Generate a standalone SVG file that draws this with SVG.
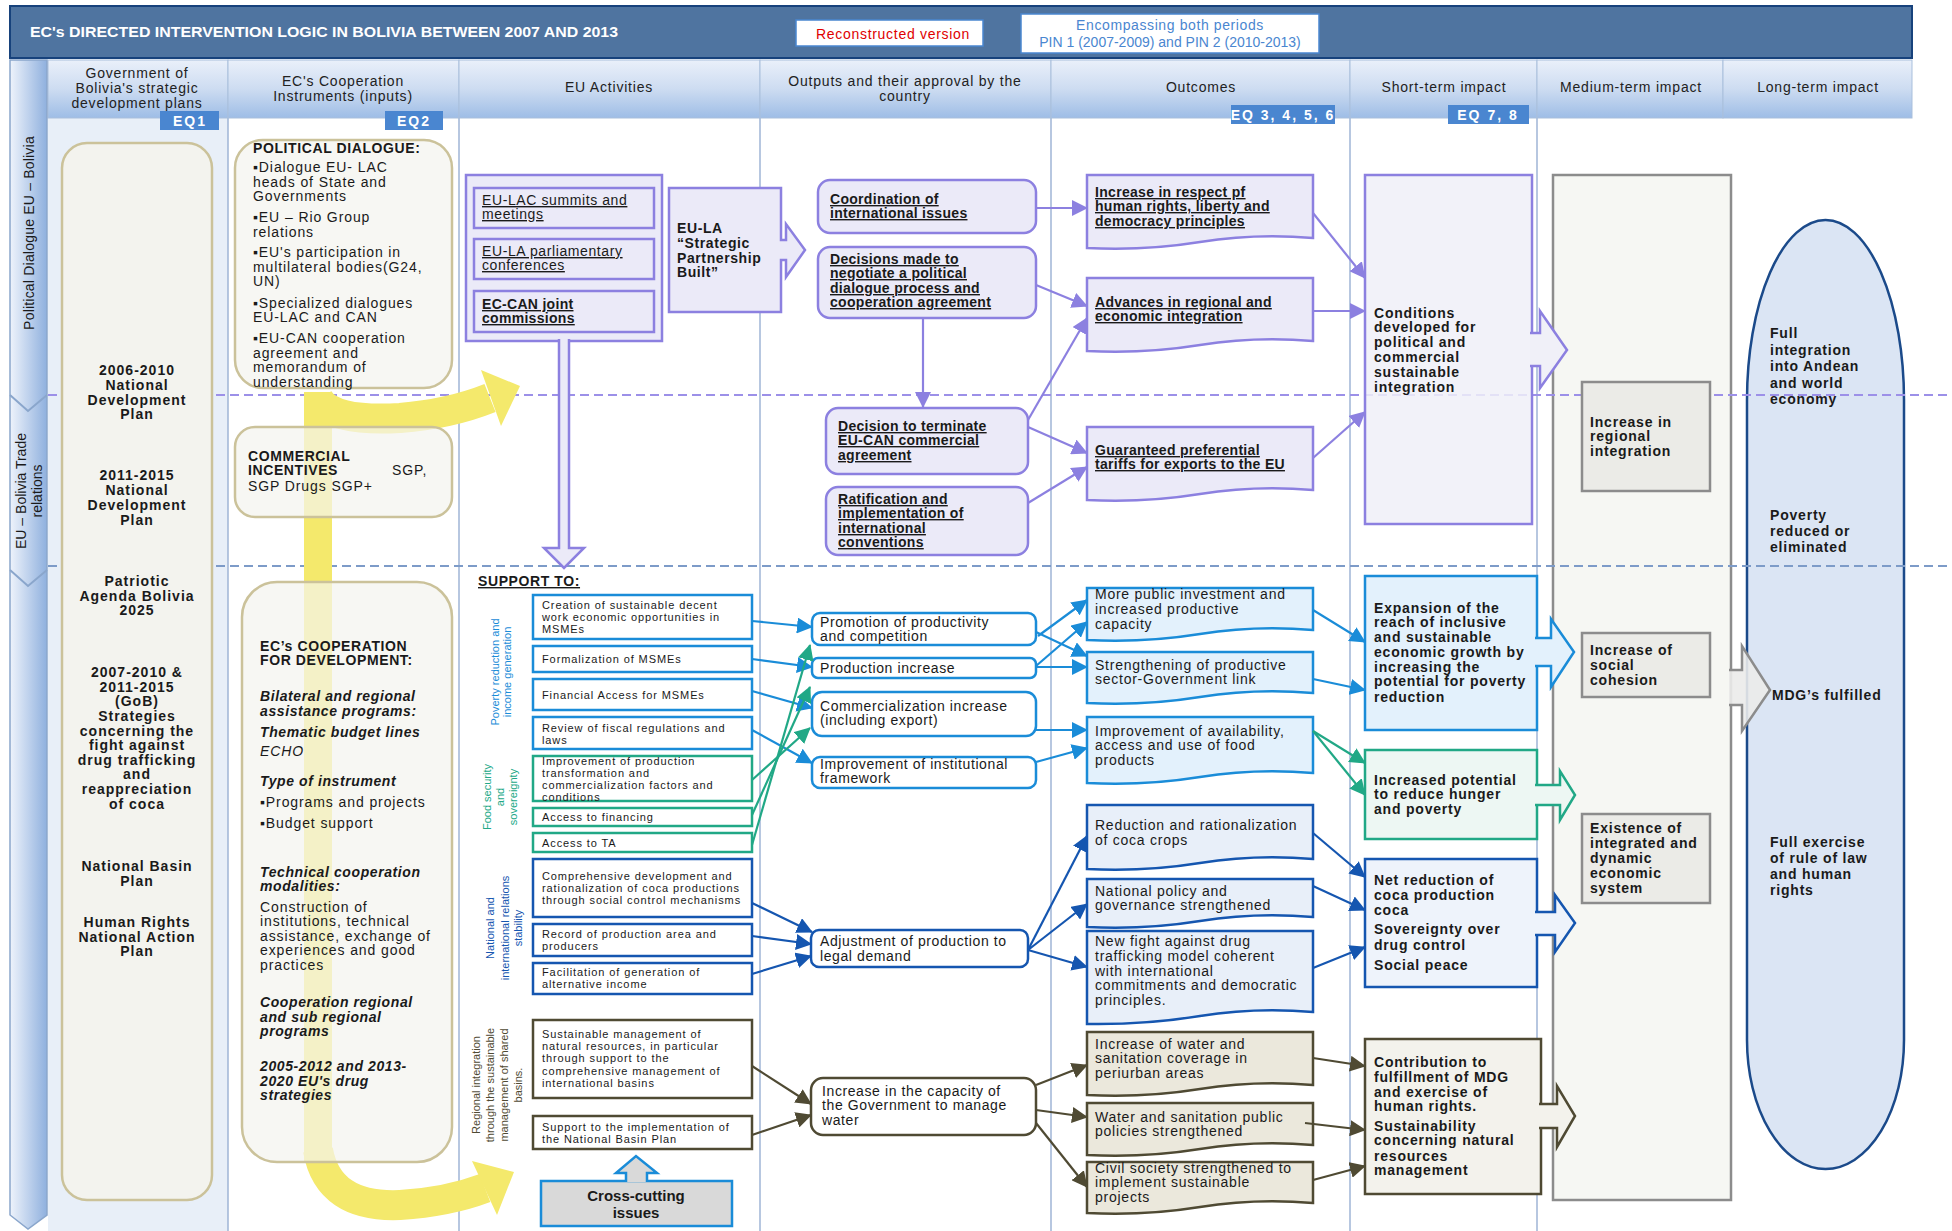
<svg xmlns="http://www.w3.org/2000/svg" width="1952" height="1231" viewBox="0 0 1952 1231">
<defs>
<linearGradient id="gHdr" x1="0" y1="0" x2="0" y2="1"><stop offset="0" stop-color="#eaf0fa"/><stop offset="0.5" stop-color="#cddcf1"/><stop offset="1" stop-color="#9ebde6"/></linearGradient>
<linearGradient id="gStrip" x1="0" y1="0" x2="1" y2="0"><stop offset="0" stop-color="#eef3fb"/><stop offset="1" stop-color="#8fb0de"/></linearGradient>
<marker id="mP" markerUnits="userSpaceOnUse" markerWidth="16" markerHeight="16" refX="15" refY="8" orient="auto"><path d="M0,0 L16,8 L0,16 z" fill="#8c80e0"/></marker>
<marker id="mB" markerUnits="userSpaceOnUse" markerWidth="16" markerHeight="16" refX="15" refY="8" orient="auto"><path d="M0,0 L16,8 L0,16 z" fill="#1a8cd8"/></marker>
<marker id="mG" markerUnits="userSpaceOnUse" markerWidth="16" markerHeight="16" refX="15" refY="8" orient="auto"><path d="M0,0 L16,8 L0,16 z" fill="#21a886"/></marker>
<marker id="mD" markerUnits="userSpaceOnUse" markerWidth="16" markerHeight="16" refX="15" refY="8" orient="auto"><path d="M0,0 L16,8 L0,16 z" fill="#1556b0"/></marker>
<marker id="mO" markerUnits="userSpaceOnUse" markerWidth="16" markerHeight="16" refX="15" refY="8" orient="auto"><path d="M0,0 L16,8 L0,16 z" fill="#4f4a33"/></marker>
<style>
text{font-family:"Liberation Sans",Arial,Helvetica,sans-serif;fill:#1a1a1a}
.hd{font-size:14px;letter-spacing:0.8px;text-anchor:middle;fill:#222}
.eq{font-size:14px;font-weight:bold;fill:#fff;letter-spacing:2px;text-anchor:middle}
.c1{font-size:14px;font-weight:bold;text-anchor:middle;letter-spacing:1px}
.r14{font-size:14px;letter-spacing:0.9px}
.b14{font-size:14px;font-weight:bold;letter-spacing:0.6px}
.bi{font-size:14px;font-weight:bold;font-style:italic;letter-spacing:0.6px}
.bu{font-size:14px;font-weight:bold;text-decoration:underline;letter-spacing:0.3px}
.ru{font-size:14px;text-decoration:underline;letter-spacing:0.6px}
.out{font-size:14px;letter-spacing:0.6px}
.oc{font-size:14px;letter-spacing:0.75px}
.st{font-size:14px;font-weight:bold;letter-spacing:0.8px}
.s11{font-size:11px;letter-spacing:0.9px}
.rot{font-size:11px;text-anchor:middle}
.pur{fill:#ebeaf8;stroke:#8c80e0;stroke-width:2.5}
.blu{fill:#e3f1fc;stroke:#1a8cd8;stroke-width:2.5}
.dbl{fill:#e8eff9;stroke:#1556b0;stroke-width:2.5}
.olv{fill:#ebe8dc;stroke:#4f4a33;stroke-width:2.5}
.wb{fill:#fff;stroke:#1a8cd8;stroke-width:2.5}
.wg{fill:#fff;stroke:#21a886;stroke-width:2.5}
.wd{fill:#fff;stroke:#1556b0;stroke-width:2.5}
.wo{fill:#fff;stroke:#4f4a33;stroke-width:2.5}
.tan{fill:#f3f3ee;stroke:#cbc29a;stroke-width:2.5}
.gry{fill:#ebebe7;stroke:#8c8c8c;stroke-width:2.5}
.hc{fill:url(#gHdr);stroke:#a9bfdc;stroke-width:1}
.vl{stroke:#9fb4d6;stroke-width:1.5}
.cp{stroke:#8c80e0;marker-end:url(#mP)}
.cb{stroke:#1a8cd8;marker-end:url(#mB)}
.cg{stroke:#21a886;marker-end:url(#mG)}
.cd{stroke:#1556b0;marker-end:url(#mD)}
.co{stroke:#4f4a33;marker-end:url(#mO)}
</style>
</defs>

<rect width="1952" height="1231" fill="#fff"/>

<!-- backgrounds -->
<g id="background">
<rect x="48" y="118" width="180" height="1113" fill="#e8eff8"/>
<line class="vl" x1="228" y1="118" x2="228" y2="1231"/>
<line class="vl" x1="459" y1="118" x2="459" y2="1231"/>
<line class="vl" x1="760" y1="118" x2="760" y2="1231"/>
<line class="vl" x1="1051" y1="118" x2="1051" y2="1231"/>
<line class="vl" x1="1350" y1="118" x2="1350" y2="1231"/>
<line class="vl" x1="1537" y1="118" x2="1537" y2="1231"/>
</g>

<!-- title -->
<g id="title">
<rect x="10" y="6" width="1902" height="52" fill="#4f74a0" stroke="#17427c" stroke-width="2"/>
<text x="30" y="37" font-size="15" font-weight="bold" fill="#fff" style="fill:#fff" textLength="588" lengthAdjust="spacingAndGlyphs">EC's DIRECTED INTERVENTION LOGIC IN BOLIVIA BETWEEN 2007 AND 2013</text>
<rect x="796" y="20" width="187" height="26" fill="#fff" stroke="#4a86d0" stroke-width="1.5"/>
<text x="816" y="39" font-size="14" style="fill:#e00000" letter-spacing="0.7">Reconstructed version</text>
<rect x="1021" y="14" width="298" height="39" fill="#fff" stroke="#4a86d0" stroke-width="1.5"/>
<text x="1170" y="30" font-size="14" text-anchor="middle" style="fill:#4a86d0" letter-spacing="0.6">Encompassing both periods</text>
<text x="1170" y="47" font-size="14" text-anchor="middle" style="fill:#4a86d0">PIN 1 (2007-2009) and PIN 2 (2010-2013)</text>
</g>

<!-- header -->
<g id="header">
<rect class="hc" x="48" y="60" width="180" height="58"/>
<rect class="hc" x="228" y="60" width="231" height="58"/>
<rect class="hc" x="459" y="60" width="301" height="58"/>
<rect class="hc" x="760" y="60" width="291" height="58"/>
<rect class="hc" x="1051" y="60" width="299" height="58"/>
<rect class="hc" x="1350" y="60" width="187" height="58"/>
<rect class="hc" x="1537" y="60" width="186" height="58"/>
<rect class="hc" x="1723" y="60" width="189" height="58"/>
<text class="hd"><tspan x="137" y="78">Government of</tspan><tspan x="137" y="93">Bolivia's strategic</tspan><tspan x="137" y="108">development plans</tspan></text>
<text class="hd"><tspan x="343" y="86">EC's Cooperation</tspan><tspan x="343" y="101">Instruments (inputs)</tspan></text>
<text class="hd" x="609" y="92">EU Activities</text>
<text class="hd"><tspan x="905" y="86">Outputs and their approval by the</tspan><tspan x="905" y="101">country</tspan></text>
<text class="hd" x="1201" y="92">Outcomes</text>
<text class="hd" x="1444" y="92">Short-term impact</text>
<text class="hd" x="1631" y="92">Medium-term impact</text>
<text class="hd" x="1818" y="92">Long-term impact</text>
<rect x="160" y="111" width="59" height="19" fill="#4a86d0"/><text class="eq" x="190" y="126">EQ1</text>
<rect x="385" y="111" width="58" height="19" fill="#4a86d0"/><text class="eq" x="414" y="126">EQ2</text>
<rect x="1231" y="105" width="104" height="19" fill="#4a86d0"/><text class="eq" x="1283" y="120">EQ 3, 4, 5, 6</text>
<rect x="1448" y="105" width="81" height="19" fill="#4a86d0"/><text class="eq" x="1488" y="120">EQ 7, 8</text>
</g>

<!-- left strip -->
<g id="strip">
<path d="M10 60 H47 V1215 L28 1229 L10 1215 Z" fill="url(#gStrip)" stroke="#8aa6cc" stroke-width="1.5"/>
<polyline points="10,395 28,411 47,395" fill="none" stroke="#8aa6cc" stroke-width="2"/>
<polyline points="10,570 28,586 47,570" fill="none" stroke="#8aa6cc" stroke-width="2"/>
<text font-size="14" text-anchor="middle" transform="translate(34,233) rotate(-90)" letter-spacing="0.2">Political Dialogue EU – Bolivia</text>
<text font-size="14" text-anchor="middle" transform="translate(26,491) rotate(-90)">EU – Bolivia Trade</text>
<text font-size="14" text-anchor="middle" transform="translate(42,491) rotate(-90)">relations</text>
</g>

<!-- medium and long term containers -->
<g id="medium-term">
<rect x="1553" y="175" width="178" height="1025" fill="#f6f7f3" stroke="#8c8c8c" stroke-width="2.5"/>
</g>
<g id="long-term">
<path d="M1747 400 A78.5 180 0 0 1 1904 400 V1040 A78.5 129 0 0 1 1747 1040 Z" fill="#dbe5f4" stroke="#1b4a8a" stroke-width="2.5"/>
<text class="st"><tspan x="1770" y="338">Full</tspan><tspan x="1770" y="355">integration</tspan><tspan x="1770" y="371">into Andean</tspan><tspan x="1770" y="388">and world</tspan><tspan x="1770" y="404">economy</tspan></text>
<text class="st"><tspan x="1770" y="520">Poverty</tspan><tspan x="1770" y="536">reduced or</tspan><tspan x="1770" y="552">eliminated</tspan></text>
<text class="st" x="1772" y="700">MDG’s fulfilled</text>
<text class="st"><tspan x="1770" y="847">Full exercise</tspan><tspan x="1770" y="863">of rule of law</tspan><tspan x="1770" y="879">and human</tspan><tspan x="1770" y="895">rights</tspan></text>
</g>

<!-- dashed separators -->
<g id="separators" fill="none" stroke-width="2" stroke-dasharray="9 5">
<line x1="48" y1="395" x2="1952" y2="395" stroke="#9c90e8"/>
<line x1="48" y1="566" x2="1952" y2="566" stroke="#7d9bc8"/>
</g>

<!-- yellow arrows -->
<g id="yellow-arrows" fill="#f4e96c">
<rect x="304" y="392" width="28" height="770"/>
<path d="M318 398 Q330 422 400 418 Q450 414 490 398" fill="none" stroke="#f4e96c" stroke-width="30"/>
<polygon points="481,370 520,386 501,426"/>
<path d="M318 1150 Q328 1208 400 1205 Q448 1202 485 1188" fill="none" stroke="#f4e96c" stroke-width="30"/>
<polygon points="472,1161 514,1172 497,1215"/>
</g>

<!-- column 1 -->
<g id="gob-plans">
<rect class="tan" x="62" y="143" width="150" height="1057" rx="25"/>
<text class="c1"><tspan x="137" y="375">2006-2010</tspan><tspan x="137" y="390">National</tspan><tspan x="137" y="405">Development</tspan><tspan x="137" y="419">Plan</tspan></text>
<text class="c1"><tspan x="137" y="480">2011-2015</tspan><tspan x="137" y="495">National</tspan><tspan x="137" y="510">Development</tspan><tspan x="137" y="525">Plan</tspan></text>
<text class="c1"><tspan x="137" y="586">Patriotic</tspan><tspan x="137" y="601">Agenda Bolivia</tspan><tspan x="137" y="615">2025</tspan></text>
<text class="c1"><tspan x="137" y="677">2007-2010 &amp;</tspan><tspan x="137" y="692">2011-2015</tspan><tspan x="137" y="706">(GoB)</tspan><tspan x="137" y="721">Strategies</tspan><tspan x="137" y="736">concerning the</tspan><tspan x="137" y="750">fight against</tspan><tspan x="137" y="765">drug trafficking</tspan><tspan x="137" y="779">and</tspan><tspan x="137" y="794">reappreciation</tspan><tspan x="137" y="809">of coca</tspan></text>
<text class="c1"><tspan x="137" y="871">National Basin</tspan><tspan x="137" y="886">Plan</tspan></text>
<text class="c1"><tspan x="137" y="927">Human Rights</tspan><tspan x="137" y="942">National Action</tspan><tspan x="137" y="956">Plan</tspan></text>
</g>

<!-- column 2 -->
<g id="political-dialogue">
<rect class="tan" x="235" y="140" width="217" height="248" rx="28" fill-opacity="0.7"/>
<text class="b14" x="253" y="153">POLITICAL DIALOGUE:</text>
<text class="r14"><tspan x="253" y="172">▪Dialogue EU- LAC</tspan><tspan x="253" y="187">heads of State and</tspan><tspan x="253" y="201">Governments</tspan><tspan x="253" y="222">▪EU – Rio Group</tspan><tspan x="253" y="237">relations</tspan><tspan x="253" y="257">▪EU's participation in</tspan><tspan x="253" y="272">multilateral bodies(G24,</tspan><tspan x="253" y="286">UN)</tspan><tspan x="253" y="308">▪Specialized dialogues</tspan><tspan x="253" y="322">EU-LAC and CAN</tspan><tspan x="253" y="343">▪EU-CAN cooperation</tspan><tspan x="253" y="358">agreement and</tspan><tspan x="253" y="372">memorandum of</tspan><tspan x="253" y="387">understanding</tspan></text>
</g>
<g id="commercial-incentives">
<rect class="tan" x="235" y="427" width="217" height="90" rx="20" fill-opacity="0.7"/>
<text class="b14"><tspan x="248" y="461">COMMERCIAL</tspan><tspan x="248" y="475">INCENTIVES</tspan></text>
<text class="r14" x="392" y="475">SGP,</text>
<text class="r14" x="248" y="491">SGP Drugs SGP+</text>
</g>
<g id="cooperation-development">
<rect class="tan" x="242" y="582" width="210" height="580" rx="35" fill-opacity="0.7"/>
<text class="b14"><tspan x="260" y="651">EC’s COOPERATION</tspan><tspan x="260" y="665">FOR DEVELOPMENT:</tspan></text>
<text class="bi"><tspan x="260" y="701">Bilateral and regional</tspan><tspan x="260" y="716">assistance programs:</tspan><tspan x="260" y="737">Thematic budget lines</tspan></text>
<text class="r14" font-style="italic" x="260" y="756">ECHO</text>
<text class="bi" x="260" y="786">Type of instrument</text>
<text class="r14"><tspan x="260" y="807">▪Programs and projects</tspan><tspan x="260" y="828">▪Budget support</tspan></text>
<text class="bi"><tspan x="260" y="877">Technical cooperation</tspan><tspan x="260" y="891">modalities:</tspan></text>
<text class="r14"><tspan x="260" y="912">Construction of</tspan><tspan x="260" y="926">institutions, technical</tspan><tspan x="260" y="941">assistance, exchange of</tspan><tspan x="260" y="955">experiences and good</tspan><tspan x="260" y="970">practices</tspan></text>
<text class="bi"><tspan x="260" y="1007">Cooperation regional</tspan><tspan x="260" y="1022">and sub regional</tspan><tspan x="260" y="1036">programs</tspan></text>
<text class="bi"><tspan x="260" y="1071">2005-2012 and 2013-</tspan><tspan x="260" y="1086">2020 EU's drug</tspan><tspan x="260" y="1100">strategies</tspan></text>
</g>

<!-- column 3: EU activities -->
<g id="eu-lac-activities">
<rect class="pur" x="466" y="175" width="196" height="166"/>
<rect class="pur" x="474" y="188" width="180" height="40"/>
<text class="ru"><tspan x="482" y="205">EU-LAC summits and</tspan><tspan x="482" y="219">meetings</tspan></text>
<rect class="pur" x="474" y="239" width="180" height="40"/>
<text class="ru"><tspan x="482" y="256">EU-LA parliamentary</tspan><tspan x="482" y="270">conferences</tspan></text>
<rect class="pur" x="474" y="291" width="180" height="41"/>
<text class="bu"><tspan x="482" y="309">EC-CAN joint</tspan><tspan x="482" y="323">commissions</tspan></text>
<path class="pur" d="M559 339 V548 H544 L564 568 L584 548 H569 V339"/>
</g>
<g id="eu-la-partnership">
<path class="pur" d="M781 240 V188 H669 V312 H781 V260 H786 V277 L805 250 L786 224 V240 Z"/>
<text class="b14"><tspan x="677" y="233">EU-LA</tspan><tspan x="677" y="248">“Strategic</tspan><tspan x="677" y="263">Partnership</tspan><tspan x="677" y="277">Built”</tspan></text>
</g>
<g id="support-to">
<text class="b14" x="478" y="586" text-decoration="underline">SUPPORT TO:</text>
<text class="rot" style="fill:#1a8cd8" transform="translate(499,672) rotate(-90)">Poverty reduction and</text>
<text class="rot" style="fill:#1a8cd8" transform="translate(511,672) rotate(-90)">income generation</text>
<text class="rot" style="fill:#21a886" transform="translate(491,797) rotate(-90)">Food security</text>
<text class="rot" style="fill:#21a886" transform="translate(504,797) rotate(-90)">and</text>
<text class="rot" style="fill:#21a886" transform="translate(517,797) rotate(-90)">sovereignty</text>
<text class="rot" style="fill:#1556b0" transform="translate(494,928) rotate(-90)">National and</text>
<text class="rot" style="fill:#1556b0" transform="translate(509,928) rotate(-90)">international relations</text>
<text class="rot" style="fill:#1556b0" transform="translate(522,928) rotate(-90)">stability</text>
<text class="rot" style="fill:#4f4a33" transform="translate(480,1085) rotate(-90)">Regional integration</text>
<text class="rot" style="fill:#4f4a33" transform="translate(494,1085) rotate(-90)">through the sustainable</text>
<text class="rot" style="fill:#4f4a33" transform="translate(508,1085) rotate(-90)">management of shared</text>
<text class="rot" style="fill:#4f4a33" transform="translate(522,1085) rotate(-90)">basins.</text>
</g>
<g id="act-creation"><rect class="wb" x="533" y="595" width="219" height="44"/><text class="s11"><tspan x="542" y="609">Creation of sustainable decent</tspan><tspan x="542" y="621">work economic opportunities in</tspan><tspan x="542" y="633">MSMEs</tspan></text></g>
<g id="act-formalization"><rect class="wb" x="533" y="646" width="219" height="26"/><text class="s11" x="542" y="663">Formalization of MSMEs</text></g>
<g id="act-financial"><rect class="wb" x="533" y="679" width="219" height="31"/><text class="s11" x="542" y="699">Financial Access for MSMEs</text></g>
<g id="act-review"><rect class="wb" x="533" y="717" width="219" height="32"/><text class="s11"><tspan x="542" y="732">Review of fiscal regulations and</tspan><tspan x="542" y="744">laws</tspan></text></g>
<g id="act-improvement"><rect class="wg" x="533" y="756" width="219" height="45"/><text class="s11"><tspan x="542" y="765">Improvement of production</tspan><tspan x="542" y="777">transformation and</tspan><tspan x="542" y="789">commercialization factors and</tspan><tspan x="542" y="801">conditions</tspan></text></g>
<g id="act-access-financing"><rect class="wg" x="533" y="808" width="219" height="18"/><text class="s11" x="542" y="821">Access to financing</text></g>
<g id="act-access-ta"><rect class="wg" x="533" y="833" width="219" height="19"/><text class="s11" x="542" y="847">Access to TA</text></g>
<g id="act-comprehensive"><rect class="wd" x="533" y="859" width="219" height="58"/><text class="s11"><tspan x="542" y="880">Comprehensive development and</tspan><tspan x="542" y="892">rationalization of coca productions</tspan><tspan x="542" y="904">through social control mechanisms</tspan></text></g>
<g id="act-record"><rect class="wd" x="533" y="924" width="219" height="32"/><text class="s11"><tspan x="542" y="938">Record of production area and</tspan><tspan x="542" y="950">producers</tspan></text></g>
<g id="act-facilitation"><rect class="wd" x="533" y="963" width="219" height="31"/><text class="s11"><tspan x="542" y="976">Facilitation of generation of</tspan><tspan x="542" y="988">alternative income</tspan></text></g>
<g id="act-sustainable"><rect class="wo" x="533" y="1020" width="219" height="78"/><text class="s11"><tspan x="542" y="1038">Sustainable management of</tspan><tspan x="542" y="1050">natural resources, in particular</tspan><tspan x="542" y="1062">through support to the</tspan><tspan x="542" y="1075">comprehensive management of</tspan><tspan x="542" y="1087">international basins</tspan></text></g>
<g id="act-basin-plan"><rect class="wo" x="533" y="1116" width="219" height="33"/><text class="s11"><tspan x="542" y="1131">Support to the implementation of</tspan><tspan x="542" y="1143">the National Basin Plan</tspan></text></g>
<g id="cross-cutting">
<rect x="541" y="1181" width="191" height="45" fill="#d9d9d9" stroke="#1a8cd8" stroke-width="2.5"/>
<path d="M626 1182 V1173 H616 L636 1156 L657 1173 H647 V1182" fill="#d9d9d9" stroke="#1a8cd8" stroke-width="2.5"/>
<text font-size="15" font-weight="bold" text-anchor="middle"><tspan x="636" y="1201">Cross-cutting</tspan><tspan x="636" y="1218">issues</tspan></text>
</g>

<!-- column 4: outputs -->
<g id="out-coordination"><rect class="pur" x="818" y="180" width="218" height="53" rx="12"/><text class="bu" letter-spacing="0.6"><tspan x="830" y="204">Coordination of</tspan><tspan x="830" y="218">international issues</tspan></text></g>
<g id="out-decisions"><rect class="pur" x="818" y="247" width="218" height="71" rx="12"/><text class="bu" letter-spacing="0.6"><tspan x="830" y="264">Decisions made to</tspan><tspan x="830" y="278">negotiate a political</tspan><tspan x="830" y="293">dialogue process and</tspan><tspan x="830" y="307">cooperation agreement</tspan></text></g>
<g id="out-terminate"><rect class="pur" x="826" y="408" width="202" height="66" rx="12"/><text class="bu" letter-spacing="0.6"><tspan x="838" y="431">Decision to terminate</tspan><tspan x="838" y="445">EU-CAN commercial</tspan><tspan x="838" y="460">agreement</tspan></text></g>
<g id="out-ratification"><rect class="pur" x="826" y="487" width="202" height="68" rx="12"/><text class="bu" letter-spacing="0.6"><tspan x="838" y="504">Ratification and</tspan><tspan x="838" y="518">implementation of</tspan><tspan x="838" y="533">international</tspan><tspan x="838" y="547">conventions</tspan></text></g>
<g id="out-promotion"><rect class="wb" x="812" y="613" width="224" height="32" rx="8"/><text class="out"><tspan x="820" y="627">Promotion of productivity</tspan><tspan x="820" y="641">and competition</tspan></text></g>
<g id="out-production"><rect class="wb" x="812" y="658" width="224" height="20" rx="6"/><text class="out" x="820" y="673">Production increase</text></g>
<g id="out-commercialization"><rect class="wb" x="812" y="692" width="224" height="44" rx="10"/><text class="out"><tspan x="820" y="711">Commercialization increase</tspan><tspan x="820" y="725">(including export)</tspan></text></g>
<g id="out-institutional"><rect class="wb" x="812" y="757" width="224" height="31" rx="8"/><text class="out"><tspan x="820" y="769">Improvement of institutional</tspan><tspan x="820" y="783">framework</tspan></text></g>
<g id="out-adjustment"><rect class="wd" x="811" y="930" width="217" height="37" rx="8"/><text class="out"><tspan x="820" y="946">Adjustment of production to</tspan><tspan x="820" y="961">legal demand</tspan></text></g>
<g id="out-water"><rect class="wo" x="811" y="1078" width="225" height="57" rx="12"/><text class="out"><tspan x="822" y="1096">Increase in the capacity of</tspan><tspan x="822" y="1110">the Government to manage</tspan><tspan x="822" y="1125">water</tspan></text></g>

<!-- column 5: outcomes -->
<g id="oc-human-rights"><path class="pur" d="M1087 175 H1313 V238 Q1256 233 1200 242 T1087 248 Z"/><text class="bu"><tspan x="1095" y="197">Increase in respect pf</tspan><tspan x="1095" y="211">human rights, liberty and</tspan><tspan x="1095" y="226">democracy principles</tspan></text></g>
<g id="oc-regional"><path class="pur" d="M1087 278 H1313 V341 Q1256 336 1200 345 T1087 351 Z"/><text class="bu"><tspan x="1095" y="307">Advances in regional and</tspan><tspan x="1095" y="321">economic integration</tspan></text></g>
<g id="oc-tariffs"><path class="pur" d="M1087 427 H1313 V490 Q1256 485 1200 494 T1087 500 Z"/><text class="bu"><tspan x="1095" y="455">Guaranteed preferential</tspan><tspan x="1095" y="469">tariffs for exports to the EU</tspan></text></g>
<g id="oc-investment"><path class="blu" d="M1087 588 H1313 V630 Q1256 625 1200 634 T1087 640 Z"/><text class="oc"><tspan x="1095" y="599">More public investment and</tspan><tspan x="1095" y="614">increased productive</tspan><tspan x="1095" y="629">capacity</tspan></text></g>
<g id="oc-link"><path class="blu" d="M1087 652 H1313 V693 Q1256 688 1200 697 T1087 703 Z"/><text class="oc"><tspan x="1095" y="670">Strengthening of productive</tspan><tspan x="1095" y="684">sector-Government link</tspan></text></g>
<g id="oc-food"><path class="blu" d="M1087 717 H1313 V773 Q1256 768 1200 777 T1087 783 Z"/><text class="oc"><tspan x="1095" y="736">Improvement of availability,</tspan><tspan x="1095" y="750">access and use of food</tspan><tspan x="1095" y="765">products</tspan></text></g>
<g id="oc-coca"><path class="dbl" d="M1087 805 H1313 V859 Q1256 854 1200 863 T1087 869 Z"/><text class="oc"><tspan x="1095" y="830">Reduction and rationalization</tspan><tspan x="1095" y="845">of coca crops</tspan></text></g>
<g id="oc-policy"><path class="dbl" d="M1087 879 H1313 V917 Q1256 912 1200 921 T1087 927 Z"/><text class="oc"><tspan x="1095" y="896">National policy and</tspan><tspan x="1095" y="910">governance strengthened</tspan></text></g>
<g id="oc-drugs"><path class="dbl" d="M1087 931 H1313 V1012 Q1256 1007 1200 1016 T1087 1024 Z"/><text class="oc"><tspan x="1095" y="946">New fight against drug</tspan><tspan x="1095" y="961">trafficking model coherent</tspan><tspan x="1095" y="976">with international</tspan><tspan x="1095" y="990">commitments and democratic</tspan><tspan x="1095" y="1005">principles.</tspan></text></g>
<g id="oc-water-coverage"><path class="olv" d="M1087 1032 H1313 V1085 Q1256 1080 1200 1089 T1087 1095 Z"/><text class="oc"><tspan x="1095" y="1049">Increase of water and</tspan><tspan x="1095" y="1063">sanitation coverage in</tspan><tspan x="1095" y="1078">periurban areas</tspan></text></g>
<g id="oc-water-policies"><path class="olv" d="M1087 1103 H1313 V1145 Q1256 1140 1200 1149 T1087 1155 Z"/><text class="oc"><tspan x="1095" y="1122">Water and sanitation public</tspan><tspan x="1095" y="1136">policies strengthened</tspan></text></g>
<g id="oc-civil-society"><path class="olv" d="M1087 1162 H1313 V1203 Q1256 1198 1200 1207 T1087 1213 Z"/><text class="oc"><tspan x="1095" y="1173">Civil society strengthened to</tspan><tspan x="1095" y="1187">implement sustainable</tspan><tspan x="1095" y="1202">projects</tspan></text></g>

<!-- column 6: short-term impact -->
<g id="st-conditions">
<rect x="1365" y="175" width="167" height="349" fill="#f0f0f8" fill-opacity="0.85" stroke="#8c80e0" stroke-width="2.5"/>
<path d="M1530 333 H1540 V311 L1567 350 L1540 388 V366 H1530" fill="#f0f0f8" stroke="#8c80e0" stroke-width="2.5"/>
<text class="st"><tspan x="1374" y="318">Conditions</tspan><tspan x="1374" y="332">developed for</tspan><tspan x="1374" y="347">political and</tspan><tspan x="1374" y="362">commercial</tspan><tspan x="1374" y="377">sustainable</tspan><tspan x="1374" y="392">integration</tspan></text>
</g>
<g id="st-expansion">
<rect class="blu" x="1365" y="576" width="172" height="154"/>
<path d="M1535 638 H1551 V619 L1574 652 L1551 687 V666 H1535" fill="#e3f1fc" stroke="#1a8cd8" stroke-width="2.5"/>
<text class="st"><tspan x="1374" y="613">Expansion of the</tspan><tspan x="1374" y="627">reach of inclusive</tspan><tspan x="1374" y="642">and sustainable</tspan><tspan x="1374" y="657">economic growth by</tspan><tspan x="1374" y="672">increasing the</tspan><tspan x="1374" y="686">potential for poverty</tspan><tspan x="1374" y="702">reduction</tspan></text>
</g>
<g id="st-hunger">
<rect x="1365" y="750" width="172" height="89" fill="#edf7f3" stroke="#21a886" stroke-width="2.5"/>
<path d="M1535 785 H1560 V771 L1575 795 L1560 820 V805 H1535" fill="#edf7f3" stroke="#21a886" stroke-width="2.5"/>
<text class="st"><tspan x="1374" y="785">Increased potential</tspan><tspan x="1374" y="799">to reduce hunger</tspan><tspan x="1374" y="814">and poverty</tspan></text>
</g>
<g id="st-coca">
<rect x="1365" y="859" width="172" height="128" fill="#eef3fb" stroke="#1556b0" stroke-width="2.5"/>
<path d="M1535 912 H1555 V895 L1575 923 L1555 952 V935 H1535" fill="#eef3fb" stroke="#1556b0" stroke-width="2.5"/>
<text class="st"><tspan x="1374" y="885">Net reduction of</tspan><tspan x="1374" y="900">coca production</tspan><tspan x="1374" y="915">coca</tspan><tspan x="1374" y="934">Sovereignty over</tspan><tspan x="1374" y="950">drug control</tspan><tspan x="1374" y="970">Social peace</tspan></text>
</g>
<g id="st-mdg">
<rect x="1365" y="1039" width="176" height="155" fill="#f3f2ec" stroke="#4f4a33" stroke-width="2.5"/>
<path d="M1539 1104 H1557 V1086 L1575 1116 L1557 1147 V1128 H1539" fill="#f3f2ec" stroke="#4f4a33" stroke-width="2.5"/>
<text class="st"><tspan x="1374" y="1067">Contribution to</tspan><tspan x="1374" y="1082">fulfillment of MDG</tspan><tspan x="1374" y="1097">and exercise of</tspan><tspan x="1374" y="1111">human rights.</tspan><tspan x="1374" y="1131">Sustainability</tspan><tspan x="1374" y="1145">concerning natural</tspan><tspan x="1374" y="1161">resources</tspan><tspan x="1374" y="1175">management</tspan></text>
</g>

<!-- column 7: medium-term boxes -->
<g id="mt-regional"><rect class="gry" x="1582" y="382" width="128" height="109"/><text class="st"><tspan x="1590" y="427">Increase in</tspan><tspan x="1590" y="441">regional</tspan><tspan x="1590" y="456">integration</tspan></text></g>
<g id="mt-cohesion"><rect class="gry" x="1582" y="633" width="128" height="64"/><text class="st"><tspan x="1590" y="655">Increase of</tspan><tspan x="1590" y="670">social</tspan><tspan x="1590" y="685">cohesion</tspan></text></g>
<g id="mt-economic"><rect class="gry" x="1582" y="814" width="128" height="89"/><text class="st"><tspan x="1590" y="833">Existence of</tspan><tspan x="1590" y="848">integrated and</tspan><tspan x="1590" y="863">dynamic</tspan><tspan x="1590" y="878">economic</tspan><tspan x="1590" y="893">system</tspan></text></g>
<g id="mt-to-lt-arrow">
<path d="M1729 670 H1742 V646 L1770 690 L1742 731 V705 H1729" fill="#ebebea" fill-opacity="0.9" stroke="#8c8c8c" stroke-width="2.5"/>
</g>

<!-- connectors -->
<g id="connectors" fill="none" stroke-width="2.2">
<line class="cp" x1="1036" y1="208" x2="1087" y2="208"/>
<line class="cp" x1="1036" y1="285" x2="1087" y2="306"/>
<line class="cp" x1="1028" y1="420" x2="1087" y2="318"/>
<line class="cp" x1="923" y1="318" x2="923" y2="407"/>
<line class="cp" x1="1028" y1="427" x2="1087" y2="453"/>
<line class="cp" x1="1028" y1="503" x2="1087" y2="467"/>
<line class="cp" x1="1313" y1="213" x2="1365" y2="278"/>
<line class="cp" x1="1313" y1="311" x2="1365" y2="311"/>
<line class="cp" x1="1313" y1="458" x2="1365" y2="412"/>

<line class="cb" x1="752" y1="621" x2="812" y2="627"/>
<line class="cb" x1="752" y1="659" x2="812" y2="667"/>
<line class="cb" x1="752" y1="691" x2="812" y2="708"/>
<line class="cb" x1="752" y1="730" x2="812" y2="763"/>
<line class="cb" x1="1038" y1="636" x2="1087" y2="600"/>
<line class="cb" x1="1036" y1="632" x2="1087" y2="656"/>
<line class="cb" x1="1036" y1="666" x2="1087" y2="622"/>
<line class="cb" x1="1036" y1="667" x2="1087" y2="667"/>
<line class="cb" x1="1036" y1="730" x2="1087" y2="730"/>
<line class="cb" x1="1036" y1="762" x2="1087" y2="748"/>
<line class="cb" x1="1313" y1="610" x2="1365" y2="642"/>
<line class="cb" x1="1313" y1="679" x2="1365" y2="690"/>

<line class="cg" x1="752" y1="780" x2="810" y2="728"/>
<line class="cg" x1="752" y1="815" x2="810" y2="687"/>
<line class="cg" x1="752" y1="845" x2="810" y2="645"/>
<line class="cg" x1="1313" y1="731" x2="1365" y2="763"/>
<line class="cg" x1="1313" y1="731" x2="1365" y2="795"/>

<line class="cd" x1="752" y1="903" x2="812" y2="932"/>
<line class="cd" x1="752" y1="936" x2="811" y2="944"/>
<line class="cd" x1="752" y1="974" x2="811" y2="956"/>
<line class="cd" x1="1028" y1="950" x2="1087" y2="836"/>
<line class="cd" x1="1028" y1="950" x2="1087" y2="904"/>
<line class="cd" x1="1028" y1="950" x2="1087" y2="967"/>
<line class="cd" x1="1313" y1="833" x2="1365" y2="877"/>
<line class="cd" x1="1313" y1="886" x2="1365" y2="910"/>
<line class="cd" x1="1313" y1="968" x2="1365" y2="947"/>

<line class="co" x1="752" y1="1066" x2="811" y2="1104"/>
<line class="co" x1="752" y1="1135" x2="811" y2="1115"/>
<line class="co" x1="1036" y1="1085" x2="1087" y2="1065"/>
<line class="co" x1="1036" y1="1110" x2="1087" y2="1117"/>
<line class="co" x1="1036" y1="1123" x2="1087" y2="1187"/>
<line class="co" x1="1313" y1="1058" x2="1365" y2="1066"/>
<line class="co" x1="1305" y1="1123" x2="1365" y2="1130"/>
<line class="co" x1="1313" y1="1180" x2="1365" y2="1166"/>
</g>
</svg>
